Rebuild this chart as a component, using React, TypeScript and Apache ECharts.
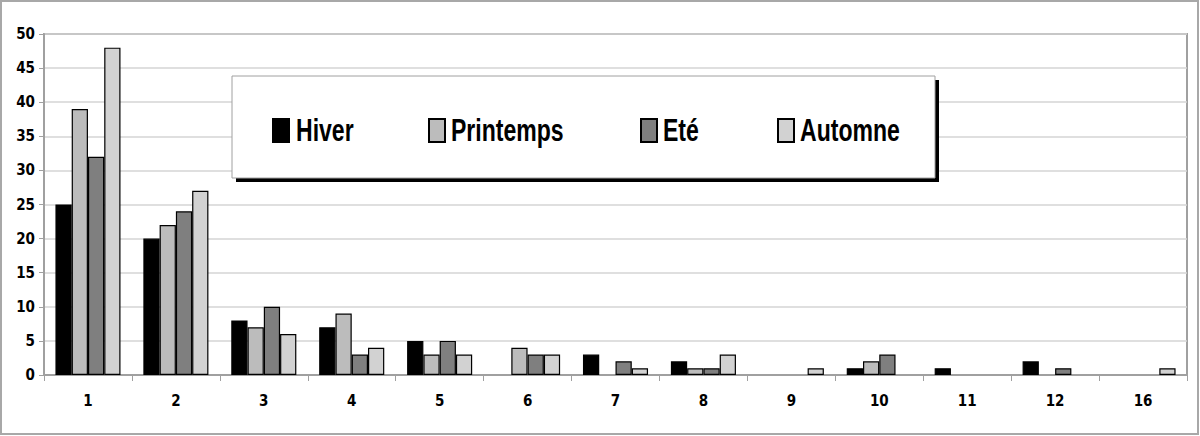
import React, { useEffect, useRef } from "react";
import * as echarts from "echarts";

const categories = ["1", "2", "3", "4", "5", "6", "7", "8", "9", "10", "11", "12", "16"];
const seriesNames = ["Hiver", "Printemps", "Eté", "Automne"];
const hiver = [25, 20, 8, 7, 5, 0, 3, 2, 0, 1, 1, 2, 0];
const printemps = [39, 22, 7, 9, 3, 4, 0, 1, 0, 2, 0, 0, 0];
const ete = [32, 24, 10, 3, 5, 3, 2, 1, 0, 3, 0, 1, 0];
const automne = [48, 27, 6, 4, 3, 3, 1, 3, 1, 0, 0, 0, 1];
const yTicks = { min: 0, max: 50, interval: 5 };

const FONT = "'Liberation Sans Narrow', 'Arial Narrow', 'DejaVu Sans Condensed', Arial, sans-serif";
const WIDE = "'Liberation Sans', Arial, sans-serif";
const colors = ["#000000", "#bcbcbc", "#7f7f7f", "#d2d2d2"];
const legendLefts = [272, 428, 640, 777];
const legendTextLefts = [296, 451, 663, 800];

export default function App() {
  const ref = useRef<HTMLDivElement>(null);
  useEffect(() => {
    if (!ref.current) return;
    const chart = echarts.init(ref.current, undefined, { renderer: "svg" });
    const all = [hiver, printemps, ete, automne];
    const option: any = {
      animation: false,
      backgroundColor: "#ffffff",
      grid: {
        left: 44,
        top: 34,
        width: 1143,
        height: 341,
        show: true,
        borderColor: "#a0a0a0",
        borderWidth: 2,
        backgroundColor: "transparent",
      },
      legend: seriesNames.map((n, i) => ({
        data: [n],
        left: legendLefts[i],
        top: 118,
        itemWidth: 16,
        itemHeight: 23,
        itemGap: 0,
        padding: 0,
        icon: "rect",
        selectedMode: false,
        formatter: () => "",
        textStyle: { fontSize: 1 },
        z: 10,
      })),
      xAxis: {
        type: "category",
        data: categories,
        axisLine: { lineStyle: { color: "#a0a0a0", width: 2 } },
        axisTick: { show: true, length: 6, lineStyle: { color: "#a0a0a0" } },
        axisLabel: { fontFamily: FONT, fontWeight: "bold", fontSize: 15, color: "#000", margin: 18 },
        splitLine: { show: false },
      },
      yAxis: {
        type: "value",
        min: yTicks.min,
        max: yTicks.max,
        interval: yTicks.interval,
        axisLine: { show: true, lineStyle: { color: "#a0a0a0", width: 2 } },
        axisTick: { show: true, length: 5, lineStyle: { color: "#a0a0a0" } },
        axisLabel: { fontFamily: FONT, fontWeight: "bold", fontSize: 15, color: "#000", margin: 9 },
        splitLine: { show: true, lineStyle: { color: "#d4d4d4", width: 1.5 } },
      },
      series: seriesNames.map((n, i) => ({
        name: n,
        type: "bar",
        data: all[i].map((v) => (v === 0 ? "-" : v)),
        barGap: "0%",
        barCategoryGap: "26%",
        itemStyle: { color: colors[i], borderColor: "#000", borderWidth: 1.2 },
      })),
      graphic: [
        {
          type: "rect",
          shape: { x: 1, y: 1, width: 1197, height: 433 },
          style: { fill: "none", stroke: "#a8a8a8", lineWidth: 2 },
          silent: true,
          z: 0,
        },
        {
          type: "rect",
          shape: { x: 236, y: 80, width: 703, height: 102 },
          style: { fill: "#000" },
          z: 5,
        },
        {
          type: "rect",
          shape: { x: 232, y: 76, width: 703, height: 102 },
          style: { fill: "#fff", stroke: "#a0a0a0", lineWidth: 1 },
          z: 6,
        },
        ...seriesNames.map((n, i) => ({
          type: "text",
          x: legendTextLefts[i],
          y: 130,
          scaleX: 0.72,
          z: 11,
          style: {
            text: n,
            x: 0,
            y: 0,
            fill: "#000",
            font: `bold 32px ${WIDE}`,
            textVerticalAlign: "middle",
            verticalAlign: "middle",
          },
        })),
      ],
    };
    chart.setOption(option);
    return () => chart.dispose();
  }, []);
  return (
    <div
      ref={ref}
      style={{ position: "fixed", left: 0, top: 0, width: 1200, height: 436 }}
    />
  );
}
